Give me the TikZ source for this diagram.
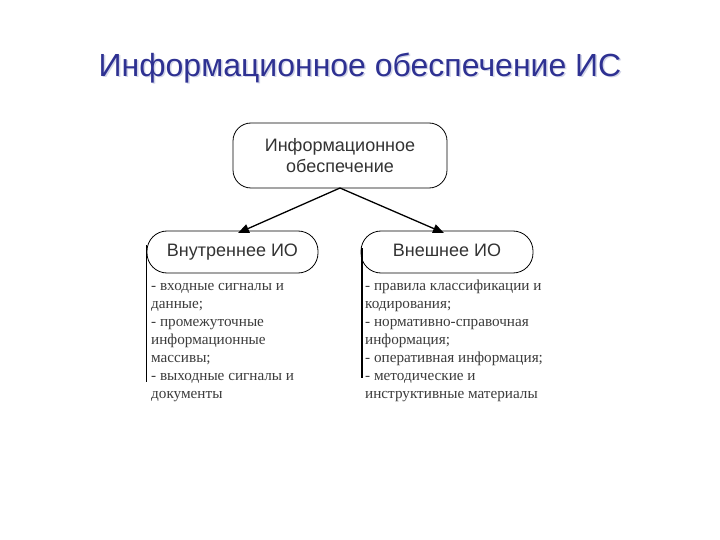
\documentclass[tikz,border=0pt]{standalone}
\usepackage{fontspec}
\setmainfont{Liberation Serif}
\setsansfont{Liberation Sans}
\usetikzlibrary{arrows.meta}
\definecolor{titleblue}{HTML}{2E3192}
\definecolor{shadowc}{HTML}{D2D5E8}
\definecolor{txt}{HTML}{333333}
\definecolor{ltxt}{HTML}{3C3C3C}
\tikzset{
  rbox/.style={draw=black, line width=0.8pt, fill=white, align=center, font=\sffamily\fontsize{18}{21}\selectfont, text=txt, inner sep=0pt},
  listtext/.style={anchor=north west, align=left, font=\rmfamily\fontsize{15.2}{18}\selectfont, text=ltxt, inner sep=0pt},
  conn/.style={line width=1.3pt, -{Triangle[length=11pt,width=9pt]}},
  sideline/.style={line width=1.2pt},
  titlefont/.style={font=\sffamily\fontsize{32}{36}\selectfont}
}
\begin{document}
\begin{tikzpicture}[x=1pt,y=-1pt]
\useasboundingbox (0,0) rectangle (720,540);
\fill[white] (0,0) rectangle (720,540);
% title with faint shadow
\node[titlefont, text=shadowc] (tsh) at (361.5,69.5) {Информационное обеспечение ИС};
\node[titlefont, text=titleblue] (title) at (360,68) {Информационное обеспечение ИС};
% boxes
\node[rbox, minimum width=214pt, minimum height=65pt, rounded corners=18pt] (top) at (340,155.5) {Информационное\\обеспечение};
\node[rbox, minimum width=171pt, minimum height=42pt, rounded corners=20pt, text height=13pt, text depth=4pt] (left) at (232.5,252) {Внутреннее ИО};
\node[rbox, minimum width=172pt, minimum height=42pt, rounded corners=20pt, text height=13pt, text depth=4pt] (right) at (447,252) {Внешнее ИО};
% connectors
\coordinate (ls) at (340,188);
\draw[conn] (ls) -- (238,233);
\draw[conn] (ls) -- (444,233);
% side lines
\coordinate (l1) at (146.5,245);
\coordinate (l2) at (146.5,382);
\coordinate (r1) at (362,248);
\coordinate (r2) at (362,378);
\draw[sideline] (l1) -- (l2);
\draw[sideline] (r1) -- (r2);
% lists
\node[listtext] (ltext) at (151,283) {- входные сигналы и\\данные;\\- промежуточные\\информационные\\массивы;\\- выходные сигналы и\\документы};
\node[listtext] (rtext) at (365,280) {- правила классификации и\\кодирования;\\- нормативно-справочная\\информация;\\- оперативная информация;\\- методические и\\инструктивные материалы};
\end{tikzpicture}
\end{document}
